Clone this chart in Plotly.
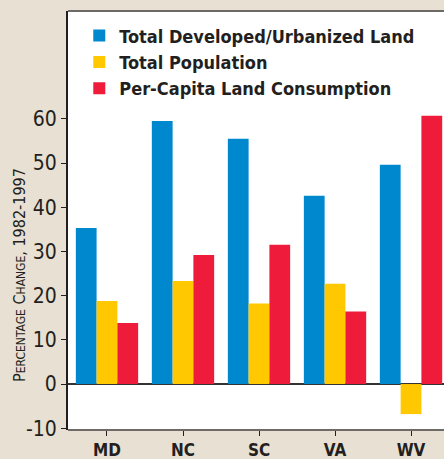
import plotly.graph_objects as go

states = ["MD", "NC", "SC", "VA", "WV"]
developed = [35.3, 59.5, 55.5, 42.6, 49.6]
population = [18.8, 23.3, 18.2, 22.7, -6.8]
per_capita = [13.8, 29.2, 31.5, 16.4, 60.7]
series_names = ["Total Developed/Urbanized Land", "Total Population", "Per-Capita Land Consumption"]
colors = ["#0088CF", "#FFC800", "#EE1C3A"]
y_ticks = [-10, 0, 10, 20, 30, 40, 50, 60]
y_tick_labels = ["-10", "0", "10", "20", "30", "40", "50", "60"]

FONT = "DejaVu Sans Condensed, Liberation Sans Narrow, sans-serif"

fig = go.Figure()
for name, vals, col in zip(series_names, [developed, population, per_capita], colors):
    fig.add_trace(go.Bar(x=states, y=vals, name=name, marker=dict(color=col, line=dict(width=0))))

fig.update_layout(
    width=444, height=459,
    barmode="group", bargap=0.18, bargroupgap=0,
    paper_bgcolor="#E8E0D2", plot_bgcolor="white",
    margin=dict(l=68, r=0, t=11, b=29),
    font=dict(family=FONT, color="#231F20"),
    showlegend=True,
    legend=dict(x=0.03, y=0.985, xanchor="left", yanchor="top",
                bgcolor="rgba(0,0,0,0)", tracegroupgap=0,
                font=dict(size=18, family=FONT, color="#231F20", weight="bold")),
    xaxis=dict(range=[-0.513, 4.434], showgrid=False, ticks="outside", ticklen=5,
               tickcolor="#231F20", showline=False, zeroline=False,
               tickfont=dict(size=17, family=FONT, weight="bold", color="#231F20")),
    yaxis=dict(range=[-10.4, 84.4], tickvals=y_ticks, ticktext=y_tick_labels, showgrid=False,
               ticks="outside", ticklen=5, tickcolor="#231F20",
               showline=True, linecolor="#231F20", linewidth=2,
               zeroline=True, zerolinecolor="#333333", zerolinewidth=2,
               tickfont=dict(size=21, family=FONT, color="#231F20")),
    annotations=[dict(
        text="P<span style='font-size:12px'>ERCENTAGE</span> C<span style='font-size:12px'>HANGE</span>, 1982-1997",
        xref="paper", yref="paper", x=0, y=0.37, xshift=-48, xanchor="center", yanchor="middle",
        textangle=-90, showarrow=False, font=dict(size=16, family=FONT, color="#231F20"))],
    shapes=[
        dict(type="line", xref="paper", yref="paper", x0=0, x1=1, y0=1, y1=1,
             line=dict(color="#6D6A68", width=2)),
        dict(type="line", xref="paper", yref="paper", x0=0, x1=1, y0=0, y1=0,
             line=dict(color="#6D6A68", width=2)),
    ],
)

fig.write_html("out.html", config={"displayModeBar": False})
with open("out.html", encoding="utf-8") as f:
    html = f.read()
html = html.replace("<head>", "<head><style>html,body{margin:0;padding:0;overflow:hidden;}</style>", 1)
with open("out.html", "w", encoding="utf-8") as f:
    f.write(html)
